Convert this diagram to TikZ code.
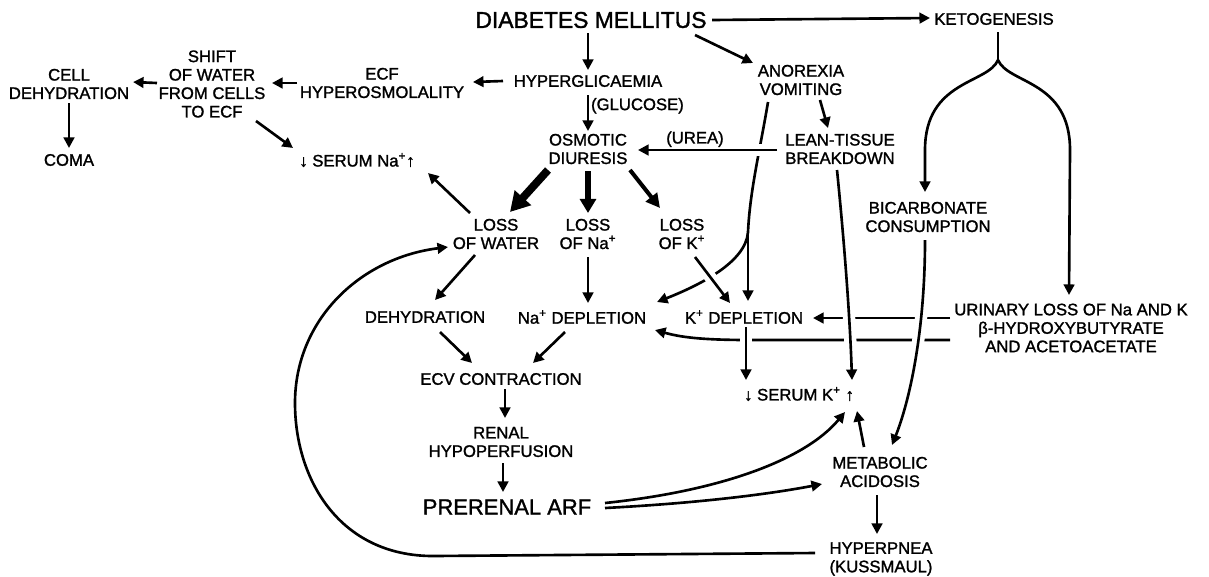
\documentclass[tikz,border=0pt]{standalone}
\usepackage{fontspec}
\setmainfont{Liberation Sans}
\newfontfamily\lettering[FakeBold=1.4]{Liberation Sans}
\usetikzlibrary{arrows.meta,calc}

\begin{document}
\begin{tikzpicture}[>={Triangle[length=6pt,width=6pt]},x=0.02cm,y=-0.02cm,line width=1.5pt]
  \tikzstyle{lbl}=[align=center,inner sep=1pt,font=\lettering\fontsize{9.5}{10.5}\selectfont]
  \tikzstyle{big}=[lbl,font=\lettering\fontsize{13}{15}\selectfont]
  \tikzstyle{bridge}=[preaction={draw=white,line width=7pt,-}]
  \useasboundingbox (0,0) rectangle (1209,576);
  \node[big] (dm) at (591,20) {DIABETES MELLITUS};
  \node[lbl] (keto) at (994,19) {KETOGENESIS};
  \node[lbl] (hyper) at (588,81) {HYPERGLICAEMIA};
  \node[lbl] (anor) at (801,80) {ANOREXIA\\VOMITING};
  \node[lbl] (ecf) at (382,83) {ECF\\HYPEROSMOLALITY};
  \node[lbl] (shift) at (212,84) {SHIFT\\OF WATER\\FROM CELLS\\TO ECF};
  \node[lbl] (celldeh) at (69,84) {CELL\\DEHYDRATION};
  \node[lbl] (coma) at (69,160) {COMA};
  \node[lbl] (serumna) at (357,160) {↓ SERUM Na\textsuperscript{+}↑};
  \node[lbl] (osmo) at (588,149) {OSMOTIC\\DIURESIS};
  \node[lbl] (lean) at (840,149) {LEAN-TISSUE\\BREAKDOWN};
  \node[lbl] (lossw) at (496,234) {LOSS\\OF WATER};
  \node[lbl] (lossna) at (588,234) {LOSS\\OF Na\textsuperscript{+}};
  \node[lbl] (lossk) at (682,234) {LOSS\\OF K\textsuperscript{+}};
  \node[lbl] (dehyd) at (425,317) {DEHYDRATION};
  \node[lbl] (nadep) at (582,317) {Na\textsuperscript{+} DEPLETION};
  \node[lbl] (kdep) at (744,317) {K\textsuperscript{+} DEPLETION};
  \node[lbl] (urin) at (1071,328) {URINARY LOSS OF Na AND K\\β-HYDROXYBUTYRATE\\AND ACETOACETATE};
  \node[lbl] (bicarb) at (928,217) {BICARBONATE\\CONSUMPTION};
  \node[lbl] (ecv) at (501,379) {ECV CONTRACTION};
  \node[lbl] (renal) at (501,442) {RENAL\\HYPOPERFUSION};
  \node[big,font=\lettering\fontsize{12.5}{14}\selectfont] (arf) at (507,507) {PRERENAL ARF};
  \node[lbl] (serumk) at (799,394) {↓ SERUM K\textsuperscript{+} ↑};
  \node[lbl] (metab) at (880,472) {METABOLIC\\ACIDOSIS};
  \node[lbl] (hyperp) at (881,559) {HYPERPNEA\\(KUSSMAUL)};
  % from the top
  \draw[->] ($(dm)+(-3,13)$) -- ($(hyper)+(0,-11)$);
  \draw[->] ($(dm)+(104,15)$) -- ($(anor)+(-48,-17)$);
  \draw[->] ($(dm)+(121,0)$) -- ($(keto)+(-64,-1)$);
  \draw[->] ($(hyper)+(-85,0)$) -- ($(ecf)+(91,-1)$);
  \draw[->] ($(hyper)+(0,14)$) -- node[lbl,pos=0.3,right] {(GLUCOSE)} ($(osmo)+(0,-18)$);
  \draw[->] ($(anor)+(19,20)$) -- ($(lean)+(-12,-21)$);
  \draw[->] ($(ecf)+(-85,0)$) -- ($(shift)+(60,-1)$);
  \draw[->] ($(shift)+(-55,-1)$) -- ($(celldeh)+(64,-2)$);
  \draw[->] ($(celldeh)+(0,19)$) -- ($(coma)+(0,-12)$);
  \draw[->] ($(shift)+(44,37)$) -- ($(serumna)+(-64,-12)$);
  % anorexia fork
  \draw ($(anor)+(-33,22)$) .. controls (760,150) and (750,190) .. (748,232) coordinate (af);
  \draw[->] (af) -- ($(kdep)+(4,-16)$);
  \draw[->] (af) .. controls (746,262) and (700,285) .. ($(nadep)+(75,-15)$);
  \draw[->,bridge] ($(lean)+(-63,1)$) -- node[lbl,pos=0.59,above] {(UREA)} ($(osmo)+(50,1)$);
  % osmotic diuresis
  \draw[-{Triangle[length=11pt,width=12pt]},line width=4.5pt] ($(osmo)+(-40,21)$) -- ($(lossw)+(14,-22)$);
  \draw[-{Triangle[length=8pt,width=9pt]},line width=3.4pt] ($(osmo)+(0,22)$) -- ($(lossna)+(0,-21)$);
  \draw[-{Triangle[length=8pt,width=8pt]},line width=2.3pt] ($(osmo)+(42,21)$) -- ($(lossk)+(-22,-26)$);
  \draw[->] ($(lossw)+(-26,-21)$) -- ($(serumna)+(71,13)$);
  \draw[->] ($(lossw)+(-21,21)$) -- ($(dehyd)+(10,-17)$);
  \draw[->] ($(lossna)+(0,23)$) -- ($(nadep)+(6,-14)$);
  \draw[->,bridge] ($(lossk)+(13,23)$) -- ($(kdep)+(-14,-14)$);
  \draw[->] ($(dehyd)+(15,15)$) -- ($(ecv)+(-29,-16)$);
  \draw[->] ($(nadep)+(-17,15)$) -- ($(ecv)+(32,-16)$);
  \draw[->] ($(ecv)+(4,10)$) -- ($(renal)+(4,-24)$);
  \draw[->] ($(renal)+(2,21)$) -- ($(arf)+(-4,-15)$);
  % ketogenesis
  \draw ($(keto)+(4,13)$) -- ++(0,28) coordinate (kf);
  \draw[->] (kf) .. controls (988,84) and (925,80) .. (925,150) -- ($(bicarb)+(-3,-25)$);
  \draw[->] (kf) .. controls (1008,84) and (1070,80) .. (1070,150) -- ($(urin)+(-2,-33)$);
  \draw[->] ($(urin)+(-121,-10)$) -- ($(kdep)+(69,1)$);
  \draw[->] ($(urin)+(-121,12)$) -- ++(-200,0) .. controls (700,340) and (680,337) .. ($(nadep)+(73,13)$);
  \draw[->,bridge] ($(kdep)+(2,10)$) -- ($(serumk)+(-53,-14)$);
  \draw[->,bridge] ($(lean)+(-3,21)$) .. controls (845,250) and (850,320) .. ($(serumk)+(53,-14)$);
  \draw[->,bridge] ($(bicarb)+(-3,23)$) .. controls (925,330) and (910,400) .. ($(metab)+(12,-27)$);
  % bottom
  \draw[->] ($(metab)+(-16,-25)$) -- ($(serumk)+(58,17)$);
  \draw[->] ($(arf)+(98,-4)$) .. controls (720,491) and (805,460) .. ($(serumk)+(46,18)$);
  \draw[->] ($(arf)+(98,1)$) .. controls (700,503) and (770,494) .. ($(metab)+(-58,12)$);
  \draw[->] ($(metab)+(-3,23)$) -- ($(hyperp)+(-4,-25)$);
  \draw[->] ($(hyperp)+(-66,-6)$) -- (433,556) .. controls (340,556) and (295,480) .. (295,403) .. controls (295,320) and (360,258) .. ($(lossw)+(-48,13)$);
\end{tikzpicture}
\end{document}
